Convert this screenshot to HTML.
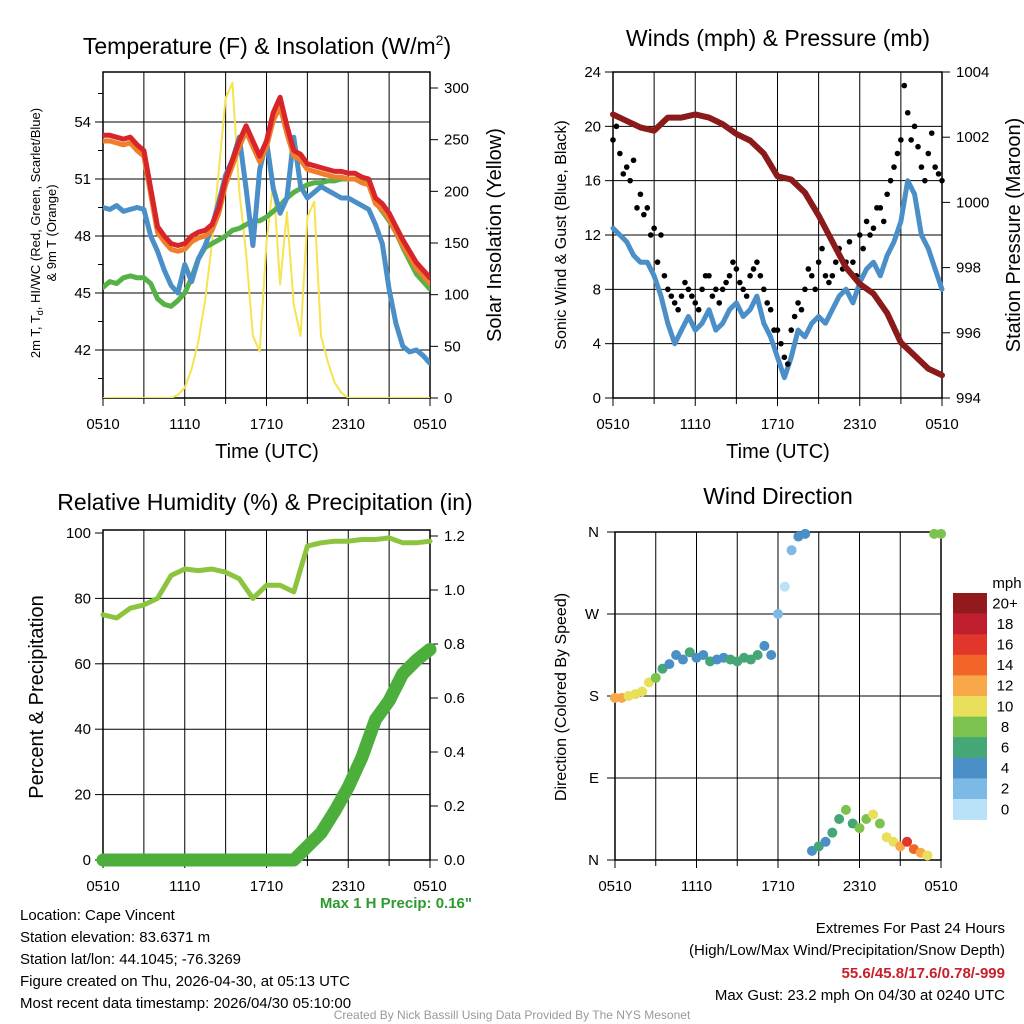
<!DOCTYPE html>
<html><head><meta charset="utf-8"><style>
body{margin:0;background:#fff}
svg{display:block;font-family:"Liberation Sans",sans-serif}
</style></head><body>
<svg id="c" width="1024" height="1024" viewBox="0 0 1024 1024">
<g id="g"></g>
</svg>
<script>
// ---------- data ----------
const xTickLabels = ["0510","1110","1710","2310","0510"];
const tempRed = [53.3,53.3,53.2,53.1,53.2,52.8,52.5,50.5,48.5,48.0,47.6,47.5,47.6,48.0,48.2,48.3,48.6,49.5,51.0,52.0,53.0,53.8,53.0,52.2,53.0,54.5,55.3,53.8,52.5,52.3,51.8,51.7,51.6,51.5,51.4,51.4,51.3,51.3,51.1,51.0,50.0,49.7,49.2,48.5,47.8,47.2,46.6,46.2,45.8];
const tempOrange = [53.0,53.0,52.9,52.8,52.9,52.5,52.2,50.2,48.2,47.7,47.3,47.2,47.3,47.7,47.9,48.0,48.3,49.2,50.7,51.7,52.7,53.5,52.7,51.9,52.7,54.1,54.8,53.4,52.2,52.0,51.5,51.4,51.3,51.2,51.1,51.1,51.0,51.0,50.8,50.7,49.7,49.4,48.9,48.2,47.5,46.9,46.3,45.9,45.5];
const tempGreen = [45.3,45.6,45.5,45.8,45.9,45.8,45.8,45.5,44.7,44.4,44.3,44.6,45.0,45.8,46.8,47.4,47.6,47.8,48.0,48.3,48.4,48.6,48.8,48.8,49.0,49.3,49.6,50.0,50.3,50.5,50.7,50.8,50.8,50.9,50.9,51.0,51.0,51.0,50.9,50.8,49.8,49.3,48.8,48.2,47.4,46.7,46.0,45.6,45.2];
const tempBlue = [49.5,49.4,49.6,49.3,49.4,49.5,49.4,48.0,47.2,46.2,45.4,45.0,46.5,45.6,46.8,47.5,48.5,49.8,51.2,52.0,53.2,50.5,47.5,51.5,53.0,50.5,49.2,50.0,53.2,50.6,50.0,50.3,50.6,50.4,50.2,50.0,50.0,49.8,49.6,49.4,48.6,47.6,45.2,43.4,42.2,41.9,42.0,41.7,41.3];
const solar = [0,0,0,0,0,0,0,0,0,0,0,3,10,28,55,95,150,220,290,305,200,140,60,45,150,210,110,180,90,60,175,190,60,35,15,5,0,0,0,0,0,0,0,0,0,0,0,0,0];
const windSpeed = [12.5,12,11.5,10.5,10,10,9,7.5,5.5,4,5,6,5,5.5,6.5,5,5.5,6.5,7,6,6.5,7.5,5.5,4.5,3,1.5,3,5,4.5,5.5,6,5.5,6.5,7.5,8,7,8.5,9.5,10,9,10.5,11.5,13,16,15,12,11,9.5,8];
const windGust = [19,18,17,17.5,15,14,12.5,12,8,7,7.5,8,7,8,9,8,8,9,9.5,8,9,10,8,6.5,5,3,5,7,8,9,10,9,9,11,10,10,12,13,12.5,14,15,17,19,21,20,17,18,17,16];
const windGustMid = [20,16.5,16,14,13.5,12,10,9,7.5,6.5,8.5,7.5,6.5,9,7.5,7,8.5,10,8.5,7.5,9.5,9,7,5,4,2.5,6,6.5,9.5,8,11,8.5,10,9.5,11.5,9,11,12,14,13,16,18,23,19,18.5,16,19.5,16.5];
const pressure = [1002.7,1002.5,1002.3,1002.2,1002.6,1002.6,1002.7,1002.6,1002.4,1002.1,1001.9,1001.5,1000.8,1000.7,1000.3,999.6,998.8,998.0,997.5,997.2,996.6,995.7,995.3,994.9,994.7];
const rh = [75,74,77,78,80,87,89,88.5,89,88,86,80,84,84,82,96,97,97.5,97.5,98,98,98.5,97,97,97.5];
const precip = [0,0,0,0,0,0,0,0,0,0,0,0,0,0,0,0.05,0.1,0.18,0.27,0.38,0.52,0.59,0.69,0.74,0.78];
const windDir = [178,178,180,182,185,195,200,210,215,225,220,228,222,225,218,220,222,220,218,222,220,225,235,225,270,300,340,355,358,10,15,20,30,45,55,40,35,45,50,40,25,20,15,20,12,8,5,358,358];
const cbLabels = ["20+","18","16","14","12","10","8","6","4","2","0"];
const cbColors = ["#921a1d","#be1e2d","#e0362b","#f26528","#f8a848","#e8e05a","#7cc24e","#45a676","#4a8fc6","#7db9e5","#b9e2f8"];

// ---------- helpers ----------
const NS="http://www.w3.org/2000/svg";
const G=document.getElementById('g');
function mk(tag,attrs,parent){const e=document.createElementNS(NS,tag);for(const k in attrs)e.setAttribute(k,attrs[k]);(parent||G).appendChild(e);return e;}
function txt(s,x,y,size,anchor,extra){const e=mk('text',Object.assign({x:x,y:y,'font-size':size,'text-anchor':anchor||'middle',fill:'#000'},extra||{}));e.textContent=s;return e;}
function lin(d0,d1,r0,r1){return v=>r0+(v-d0)/(d1-d0)*(r1-r0);}

function frame(name,x0,x1,y0,y1,yTicks,yScale,yTickLabelFn,vlines){
  const g=mk('g',{});
  
  
  for(const v of vlines){mk('line',{x1:v,x2:v,y1:y0,y2:y1,stroke:'#000','stroke-width':1},g);}
  for(const t of yTicks){const y=yScale(t);mk('line',{x1:x0,x2:x1,y1:y,y2:y,stroke:'#000','stroke-width':1},g);}
  mk('rect',{x:x0,y:y0,width:x1-x0,height:y1-y0,fill:'none',stroke:'#000','stroke-width':1.5},g);
  return g;
}
function xAxis(name,x0,x1,yb){
  const xs=lin(0,24,x0,x1);
  for(let i=0;i<xTickLabels.length;i++){
    const t=txt(xTickLabels[i],xs(i*6),yb+31,15);
    
    
    mk('line',{x1:xs(i*6),x2:xs(i*6),y1:yb,y2:yb+8,stroke:'#000'});
  }
  for(let h=3;h<24;h+=6){mk('line',{x1:xs(h),x2:xs(h),y1:yb,y2:yb+6,stroke:'#000'});}
}
function vgrid(x0,x1){const xs=lin(0,24,x0,x1);const a=[];for(let h=3;h<24;h+=3)a.push(xs(h));return a;}
function poly(arr,xs,ys,color,w,name){
  const pts=arr.map((v,i)=>xs(i).toFixed(1)+','+ys(v).toFixed(1)).join(' ');
  const p=mk('polyline',{points:pts,fill:'none',stroke:color,'stroke-width':w,'stroke-linejoin':'round','stroke-linecap':'round'});
  
  
  return p;
}

// ---------- Panel 1: Temperature ----------
(function(){
  const x0=103,x1=430,y0=72,y1=398;
  const yT=lin(42,54,350,122);
  const yS=lin(0,300,398,88);
  const xi=lin(0,48,x0,x1);
  frame('temperature',x0,x1,y0,y1,[42,45,48,51,54],yT,null,vgrid(x0,x1));
  for(const t of [42,45,48,51,54]){const l=txt(String(t),x0-12,yT(t)+5,15,'end');mk('line',{x1:x0-8,x2:x0,y1:yT(t),y2:yT(t),stroke:'#000'});}
  for(const t of [43.5,46.5,49.5,52.5,55.5,40.5]){mk('line',{x1:x0-5,x2:x0,y1:yT(t),y2:yT(t),stroke:'#000'});}
  for(const t of [0,50,100,150,200,250,300]){const l=txt(String(t),x1+14,yS(t)+5,15,'start');mk('line',{x1:x1,x2:x1+8,y1:yS(t),y2:yS(t),stroke:'#000'});}
  xAxis('temperature',x0,x1,y1);
  const clip=mk('clipPath',{id:'cp1'});mk('rect',{x:x0,y:y0,width:x1-x0,height:y1-y0},clip);
  const gg=mk('g',{'clip-path':'url(#cp1)'});
  const sp=poly(solar,xi,yS,'#f7e34f',2,'solar-insolation-line');gg.appendChild(sp);
  gg.appendChild(poly(tempGreen,xi,yT,'#56b146',5,'dewpoint-line'));
  gg.appendChild(poly(tempBlue,xi,yT,'#4b8fc8',5,'heat-index-windchill-line'));
  gg.appendChild(poly(tempOrange,xi,yT,'#f07f2c',5,'temp-9m-line'));
  gg.appendChild(poly(tempRed,xi,yT,'#d7252a',5,'temp-2m-line'));
  const t=txt('',267,54,23);t.innerHTML='Temperature (F) &amp; Insolation (W/m<tspan dy="-9" font-size="14">2</tspan><tspan dy="9">)</tspan>';
  
  const xl=txt('Time (UTC)',267,458,20);
  const yl=mk('text',{x:0,y:0,'font-size':13,'text-anchor':'middle',transform:'translate(40,233) rotate(-90)'});
  yl.innerHTML='2m T, T<tspan dy="3" font-size="9">d</tspan><tspan dy="-3">, HI/WC (Red, Green, Scarlet/Blue)</tspan>';
  
  const yl2=txt('& 9m T (Orange)',0,0,13,'middle',{transform:'translate(56,233) rotate(-90)'});
  
  const yr=txt('Solar Insolation (Yellow)',0,0,20,'middle',{transform:'translate(501,235) rotate(-90)'});
  
})();

// ---------- Panel 2: Winds & Pressure ----------
(function(){
  const x0=613,x1=942,y0=72,y1=398;
  const yW=lin(0,24,398,72);
  const yP=lin(994,1004,398,72);
  const xi=lin(0,48,x0,x1), xh=lin(0,24,x0,x1);
  frame('winds',x0,x1,y0,y1,[4,8,12,16,20],yW,null,vgrid(x0,x1));
  for(const t of [0,4,8,12,16,20,24]){const l=txt(String(t),x0-12,yW(t)+5,15,'end');mk('line',{x1:x0-8,x2:x0,y1:yW(t),y2:yW(t),stroke:'#000'});}
  for(const t of [994,996,998,1000,1002,1004]){const l=txt(String(t),x1+14,yP(t)+5,15,'start');mk('line',{x1:x1,x2:x1+8,y1:yP(t),y2:yP(t),stroke:'#000'});}
  xAxis('winds',x0,x1,y1);
  poly(windSpeed,xi,yW,'#4b8fc8',5,'sonic-wind-line');
  windGust.forEach((v,i)=>{const c=mk('circle',{cx:xi(i),cy:yW(v),r:2.8,fill:'#000'});
    });
  windGustMid.forEach((v,i)=>{const c=mk('circle',{cx:xi(i+0.5),cy:yW(v),r:2.8,fill:'#000'});
    });
  poly(pressure,xh,yP,'#8b1a1a',6,'pressure-line');
  const t=txt('Winds (mph) & Pressure (mb)',778,46,23);
  const xl=txt('Time (UTC)',778,458,20);
  const yl=txt('Sonic Wind & Gust (Blue, Black)',0,0,16,'middle',{transform:'translate(566,235) rotate(-90)'});
  const yr=txt('Station Pressure (Maroon)',0,0,20,'middle',{transform:'translate(1020,235) rotate(-90)'});
})();

// ---------- Panel 3: RH & Precip ----------
(function(){
  const x0=103,x1=430,y0=530,y1=860;
  const yR=lin(0,100,860,533);
  const yPr=lin(0,1.2,860,536);
  const xh=lin(0,24,x0,x1);
  frame('humidity',x0,x1,y0,y1,[20,40,60,80],yR,null,vgrid(x0,x1));
  for(const t of [0,20,40,60,80,100]){const l=txt(String(t),x0-12,yR(t)+5,15,'end');mk('line',{x1:x0-8,x2:x0,y1:yR(t),y2:yR(t),stroke:'#000'});}
  for(const t of [0,0.2,0.4,0.6,0.8,1.0,1.2]){const l=txt(t.toFixed(1),x1+14,yPr(t)+5,15,'start');mk('line',{x1:x1,x2:x1+8,y1:yPr(t),y2:yPr(t),stroke:'#000'});}
  xAxis('humidity',x0,x1,y1);
  poly(rh,xh,yR,'#8cc43f',5,'relative-humidity-line');
  poly(precip,xh,yPr,'#4caf3c',13,'precipitation-line');
  const t=txt('Relative Humidity (%) & Precipitation (in)',265,510,23);
  const yl=txt('Percent & Precipitation',0,0,20,'middle',{transform:'translate(43,697) rotate(-90)'});
  const m=txt('Max 1 H Precip: 0.16"',472,908,15,'end',{fill:'#2e9a2e','font-weight':'bold'});
})();

// ---------- Panel 4: Wind Direction ----------
(function(){
  const x0=615,x1=941,y0=532,y1=860;
  const yD=lin(0,360,860,532);
  const xi=lin(0,48,x0,x1);
  frame('wind-direction',x0,x1,y0,y1,[90,180,270],yD,null,vgrid(x0,x1));
  const dl=[["N",0],["E",90],["S",180],["W",270],["N",360]];
  for(const d of dl){const l=txt(d[0],x0-16,yD(d[1])+5,15,'end');mk('line',{x1:x0-8,x2:x0,y1:yD(d[1]),y2:yD(d[1]),stroke:'#000'});}
  xAxis('wind-direction',x0,x1,y1);
  function col(s){const idx=Math.min(10,Math.floor(s/2));return cbColors[10-idx];}
  windDir.forEach((v,i)=>{const c=mk('circle',{cx:xi(i),cy:yD(v),r:5,fill:col(windSpeed[i])});
    });
  const t=txt('Wind Direction',778,504,23);
  const yl=txt('Direction (Colored By Speed)',0,0,16,'middle',{transform:'translate(566,697) rotate(-90)'});
  const cb=mk('g',{});
  const h=20.6;
  cbColors.forEach((c,i)=>{mk('rect',{x:953,y:593+i*h,width:34,height:h+0.3,fill:c},cb);
    const l=txt(cbLabels[i],1005,593+i*h+h/2+5,15,'middle');});
  const u=txt('mph',1007,588,15,'middle');
})();

// ---------- info text ----------
const info=["Location: Cape Vincent","Station elevation: 83.6371 m","Station lat/lon: 44.1045; -76.3269","Figure created on Thu, 2026-04-30, at 05:13 UTC","Most recent data timestamp: 2026/04/30 05:10:00"];
info.forEach((s,i)=>{const t=txt(s,20,920+i*22,15,'start');});
const e1=txt('Extremes For Past 24 Hours',1005,933,15,'end');
const e2=txt('(High/Low/Max Wind/Precipitation/Snow Depth)',1005,955,15,'end');
const e3=txt('55.6/45.8/17.6/0.78/-999',1005,978,15,'end',{fill:'#c8202a','font-weight':'bold'});
const e4=txt('Max Gust: 23.2 mph On 04/30 at 0240 UTC',1005,1000,15,'end');
const cr=txt('Created By Nick Bassill Using Data Provided By The NYS Mesonet',512,1019,12,'middle',{fill:'#999'});
</script>
</body></html>
